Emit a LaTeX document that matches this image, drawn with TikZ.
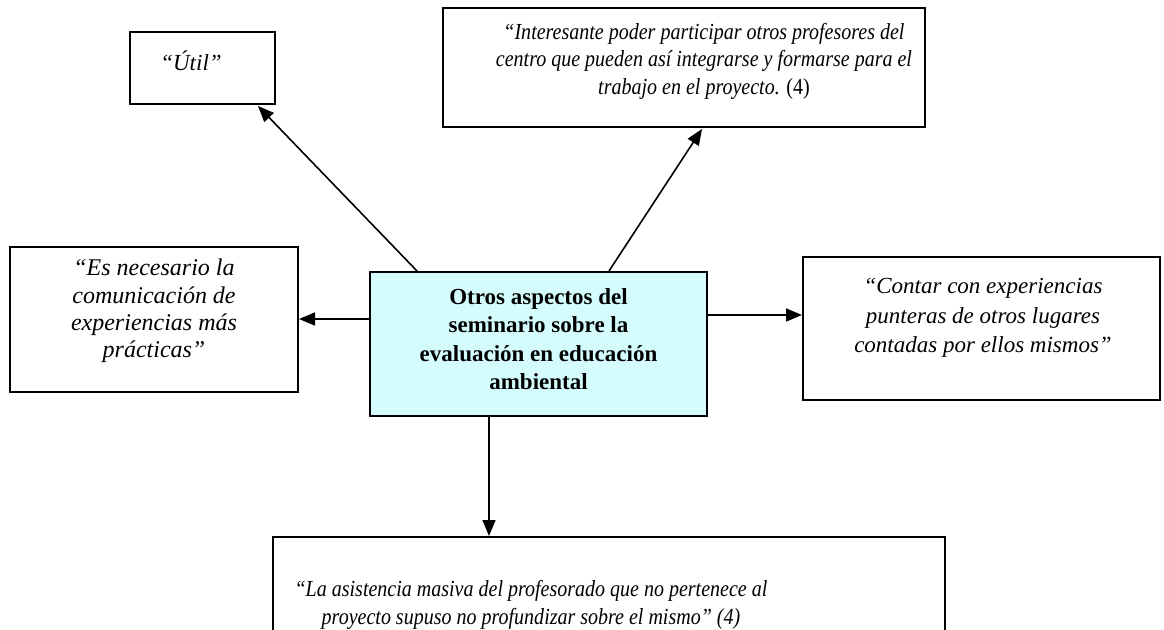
\documentclass[tikz,border=0pt]{standalone}
\usepackage{fontspec}
\setmainfont{Liberation Serif}
\newfontfamily\narrowserif[FakeStretch=0.87]{Liberation Serif}
\usetikzlibrary{arrows.meta,calc}
\definecolor{paleCyan}{RGB}{212,252,252}
\begin{document}
\begin{tikzpicture}[x=1pt,y=-1pt,
  box/.style={draw,line width=2pt,inner sep=0pt},
  conn/.style={line width=1.6pt,-{Triangle[length=16pt,width=13pt]}},
  qtxt/.style={font=\fontsize{23}{27.5}\selectfont\itshape,align=center,inner sep=0pt},
  ntxt/.style={font=\narrowserif\fontsize{23}{27.5}\selectfont\itshape,align=center,inner sep=0pt},
  btxt/.style={font=\fontsize{23}{28.5}\selectfont\bfseries,align=center,inner sep=0pt}]
\useasboundingbox (0,0) rectangle (1164,629);
\clip (0,0) rectangle (1164,629);
% boxes
\node[box,minimum width=145pt,minimum height=72pt] (util) at (202.5,68) {};
\node[box,minimum width=482pt,minimum height=119pt] (top) at (684,67.5) {};
\node[box,minimum width=288pt,minimum height=145pt] (left) at (154,319.5) {};
\node[box,fill=paleCyan,minimum width=337pt,minimum height=144pt] (center) at (538.5,344) {};
\node[box,minimum width=357pt,minimum height=143pt] (right) at (981.5,328.5) {};
\node[box,minimum width=672pt,minimum height=143pt] (bottom) at (609,608.5) {};
% texts
\node[qtxt] (tutil) at (191,61) {“Útil”};
\node[ntxt] (ttop) at (704,61) {“Interesante poder participar otros profesores del\\centro que pueden así integrarse y formarse para el\\trabajo en el proyecto.\upshape{} (4)};
\node[qtxt,font=\fontsize{24}{27.2}\selectfont\itshape] (tleft) at (154,311) {“Es necesario la\\comunicación de\\experiencias más\\prácticas”};
\node[btxt] (tcenter) at (538.5,339) {Otros aspectos del\\seminario sobre la\\evaluación en educación\\ambiental};
\node[qtxt,font=\fontsize{23}{29.5}\selectfont\itshape] (tright) at (983,318) {“Contar con experiencias\\punteras de otros lugares\\contadas por ellos mismos”};
\node[ntxt] (tbottom) at (531,605) {“La asistencia masiva del profesorado que no pertenece al\\proyecto supuso no profundizar sobre el mismo” (4)};
% connectors
\draw[conn] ($(center.north west)+(48,0)$) -- ($(util.south east)+(-18,1)$);
\draw[conn] ($(center.north west)+(240,0)$) -- ($(top.south west)+(260,1)$);
\draw[conn] ($(center.north west)+(0,48)$) -- (left.east |- {$(center.north west)+(0,48)$});
\draw[conn] ($(center.north east)+(0,44)$) -- (right.west |- {$(center.north east)+(0,44)$});
\draw[conn] ($(center.south west)+(120,0)$) -- (bottom.north -| {$(center.south west)+(120,0)$});
\end{tikzpicture}
\end{document}
